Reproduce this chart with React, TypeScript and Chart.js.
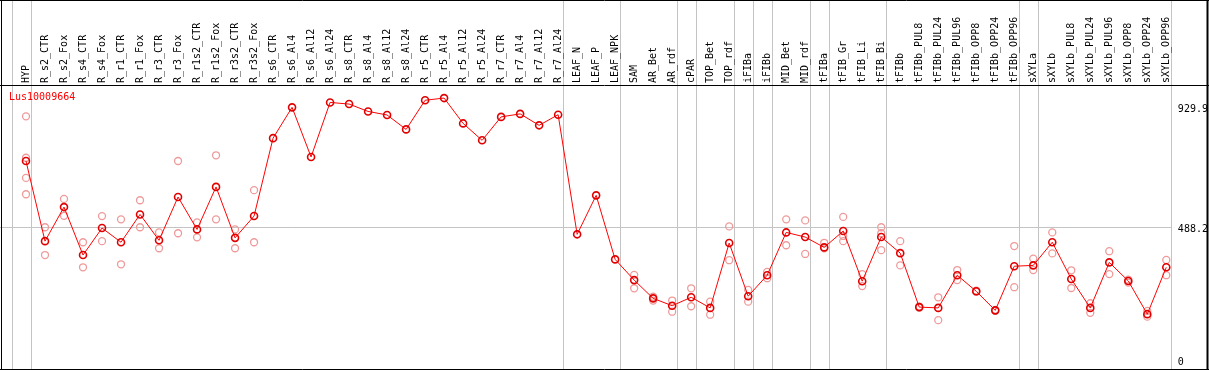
import React, { useEffect, useRef } from "react";
import { Chart, registerables } from "chart.js";

Chart.register(...registerables);

const title = "Lus10009664";

const categories = [
  "HYP", "R_s2_CTR", "R_s2_Fox", "R_s4_CTR", "R_s4_Fox", "R_r1_CTR", "R_r1_Fox",
  "R_r3_CTR", "R_r3_Fox", "R_r1s2_CTR", "R_r1s2_Fox", "R_r3s2_CTR", "R_r3s2_Fox",
  "R_s6_CTR", "R_s6_Al4", "R_s6_Al12", "R_s6_Al24", "R_s8_CTR", "R_s8_Al4",
  "R_s8_Al12", "R_s8_Al24", "R_r5_CTR", "R_r5_Al4", "R_r5_Al12", "R_r5_Al24",
  "R_r7_CTR", "R_r7_Al4", "R_r7_Al12", "R_r7_Al24", "LEAF_N", "LEAF_P", "LEAF_NPK",
  "SAM", "AR_Bet", "AR_rdf", "cPAR", "TOP_Bet", "TOP_rdf", "iFIBa", "iFIBb",
  "MID_Bet", "MID_rdf", "tFIBa", "tFIB_Gr", "tFIB_Li", "tFIB_Bi", "tFIBb",
  "tFIBb_PUL8", "tFIBb_PUL24", "tFIBb_PUL96", "tFIBb_OPP8", "tFIBb_OPP24",
  "tFIBb_OPP96", "sXYLa", "sXYLb", "sXYLb_PUL8", "sXYLb_PUL24", "sXYLb_PUL96",
  "sXYLb_OPP8", "sXYLb_OPP24", "sXYLb_OPP96",
];

const meanValues = [
  732, 438, 563, 387, 486, 434, 536, 441, 600, 481, 637, 450, 530,
  816, 929, 747, 947, 941, 914, 901, 848, 955, 963, 870, 808, 894, 905, 863, 902,
  463, 606, 371,
  295, 228, 201, 232, 193, 431, 236, 313, 470, 453, 415, 475, 291, 453,
  394, 196, 193, 313, 254, 184, 346,
  349, 434, 299, 193, 360, 292, 170, 342,
];

const replicateValues: number[][] = [
  [896, 744, 670, 610], [489, 387], [593, 531], [434, 342], [530, 438],
  [518, 353], [588, 489], [470, 412], [732, 467], [507, 452], [753, 518],
  [481, 412], [625, 434],
  [], [], [], [], [], [], [], [], [], [], [], [], [], [], [], [], [], [], [],
  [314, 265], [234, 220], [220, 179], [265, 199], [216, 168], [492, 368],
  [259, 216], [325, 302], [518, 423], [514, 391], [432, 412], [527, 457, 438],
  [317, 273], [489, 467, 405], [438, 349], [198, 194], [232, 148], [332, 295],
  [256, 252], [186, 182], [420, 269], [374, 332], [470, 393], [331, 266],
  [210, 175], [401, 317], [286, 297], [182, 161], [369, 313],
];

// index of last category in each group (group separators)
const groupEnds = [-1, 0, 28, 31, 34, 35, 37, 38, 39, 41, 42, 45, 52, 53, 60];
const yTicks = [0, 488.2, 929.9];
const gridTick = 488.2;

const FONT = "DejaVu Sans Mono";
const GRID = "#c4c4c4";
const SEP = 0.24;

const gridPlugin = {
  id: "grids",
  beforeDatasetsDraw(chart: any) {
    const ctx = chart.ctx;
    const xs = chart.scales.x;
    const ys = chart.scales.y;
    ctx.save();
    ctx.strokeStyle = GRID;
    ctx.lineWidth = 1;
    ctx.beginPath();
    groupEnds.forEach((b) => {
      const x = Math.round(xs.getPixelForValue(b + SEP)) + 0.5;
      ctx.moveTo(x, 0);
      ctx.lineTo(x, 370);
    });
    const gy = Math.round(ys.getPixelForValue(gridTick)) + 0.5;
    const right = Math.round(xs.getPixelForValue(groupEnds[groupEnds.length - 1] + SEP)) + 0.5;
    ctx.moveTo(0, gy);
    ctx.lineTo(right, gy);
    ctx.stroke();
    ctx.restore();
  },
  afterDraw(chart: any) {
    const ctx = chart.ctx;
    const xs = chart.scales.x;
    const ys = chart.scales.y;
    ctx.save();
    ctx.fillStyle = "#000";
    ctx.font = `10px "${FONT}"`;
    ctx.textAlign = "left";
    ctx.textBaseline = "middle";
    categories.forEach((c, i) => {
      const x = xs.getPixelForValue(i);
      ctx.save();
      ctx.translate(x, 83);
      ctx.rotate(-Math.PI / 2);
      ctx.fillText(c, 0, 0);
      ctx.restore();
    });
    const right = xs.getPixelForValue(groupEnds[groupEnds.length - 1] + SEP);
    yTicks.forEach((v) => {
      ctx.fillText(String(v), right + 7, ys.getPixelForValue(v) + 2);
    });
    ctx.fillStyle = "#ff0000";
    ctx.fillText(title, 9, 97);
    ctx.strokeStyle = "#000";
    ctx.lineWidth = 1;
    ctx.beginPath();
    ctx.moveTo(0, 0.5);
    ctx.lineTo(1209, 0.5);
    ctx.moveTo(1.5, 0);
    ctx.lineTo(1.5, 370);
    ctx.moveTo(0, 85.5);
    ctx.lineTo(1209, 85.5);
    ctx.moveTo(0, 369.5);
    ctx.lineTo(1209, 369.5);
    ctx.stroke();
    ctx.lineWidth = 2;
    ctx.beginPath();
    ctx.moveTo(1207.5, 0);
    ctx.lineTo(1207.5, 370);
    ctx.stroke();
    ctx.restore();
  },
};

export default function App() {
  const ref = useRef<HTMLCanvasElement>(null);
  useEffect(() => {
    document.body.style.margin = "0";
    if (!ref.current) return;
    const mainData = meanValues.map((v, i) => ({ x: i, y: v }));
    const repData = replicateValues.flatMap((arr, i) => arr.map((v) => ({ x: i, y: v })));
    const chart = new Chart(ref.current, {
      type: "line",
      data: {
        datasets: [
          {
            type: "line",
            data: mainData,
            order: 0,
            borderColor: "#ff0000",
            borderWidth: 1,
            tension: 0,
            pointRadius: 3.5,
            pointBorderWidth: 1.6,
            pointBorderColor: "#e00000",
            pointBackgroundColor: "rgba(0,0,0,0)",
          },
          {
            type: "scatter",
            data: repData,
            order: 1,
            showLine: false,
            pointRadius: 3.5,
            pointBorderWidth: 1.3,
            pointBorderColor: "#ef9a9a",
            pointBackgroundColor: "rgba(0,0,0,0)",
          },
        ],
      },
      plugins: [gridPlugin],
      options: {
        animation: false,
        responsive: false,
        layout: { padding: 0, autoPadding: false },
        plugins: { legend: { display: false }, tooltip: { enabled: false } },
        scales: {
          x: { type: "linear", display: false, min: -1.368, max: 62.247 },
          y: { type: "linear", display: false, min: -34.86, max: 1322.9 },
        },
      },
    });
    return () => chart.destroy();
  }, []);
  return (
    <div style={{ position: "absolute", left: 0, top: 0, width: 1209, height: 370, background: "#fff" }}>
      <canvas ref={ref} width={1209} height={370} style={{ display: "block" }} />
    </div>
  );
}
